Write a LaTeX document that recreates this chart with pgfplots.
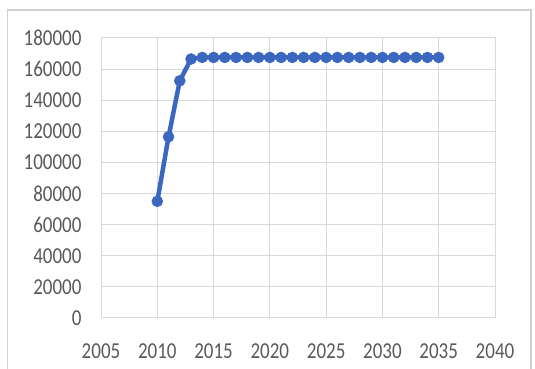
\documentclass[border=0pt]{standalone}
\usepackage{pgfplots}
\pgfplotsset{compat=1.18}
\usepackage{fontspec}
\setmainfont{Carlito}
\definecolor{serieblue}{HTML}{3B67C1}
\definecolor{ticktext}{HTML}{595959}
\definecolor{gridgray}{HTML}{D9D9D9}
\definecolor{framegray}{HTML}{D0D0D0}

\begin{document}
\begin{tikzpicture}
  \useasboundingbox (0pt,0pt) rectangle (535pt,369pt);
  % chart frame
  \draw[framegray, line width=1.2pt] (7.5pt,-5pt) -- (7.5pt,359pt) -- (531pt,359pt) -- (531pt,-5pt);
  \begin{axis}[
      at={(101pt,51pt)}, anchor=south west,
      scale only axis, width=394pt, height=280pt,
      xmin=2005, xmax=2040, ymin=0, ymax=180000,
      xtick distance=5, ytick distance=20000,
      grid=major,
      major grid style={gridgray, line width=1pt},
      axis line style={gridgray, line width=1pt},
      x axis line style={color=black!25},
      tick style={draw=none},
      scaled y ticks=false,
      /pgf/number format/.cd, fixed, precision=0, 1000 sep={}, assume math mode=true,
      /pgfplots/.cd,
      ticklabel style={font=\fontsize{19}{19}\selectfont, text=ticktext, yscale=1.2},
      xticklabel style={yshift=-18pt},
      yticklabel style={xshift=-16pt},
    ]
    \addplot[serieblue, line width=4.5pt, mark=*, mark size=5.5pt,
             mark options={fill=serieblue, draw=serieblue, line width=0.5pt}]
      coordinates {
        (2010,75000) (2011,116500) (2012,152500) (2013,166500)
        (2014,167500) (2015,167500) (2016,167500) (2017,167500)
        (2018,167500) (2019,167500) (2020,167500) (2021,167500)
        (2022,167500) (2023,167500) (2024,167500) (2025,167500)
        (2026,167500) (2027,167500) (2028,167500) (2029,167500)
        (2030,167500) (2031,167500) (2032,167500) (2033,167500)
        (2034,167500) (2035,167500)
      };
  \end{axis}
\end{tikzpicture}
\end{document}
